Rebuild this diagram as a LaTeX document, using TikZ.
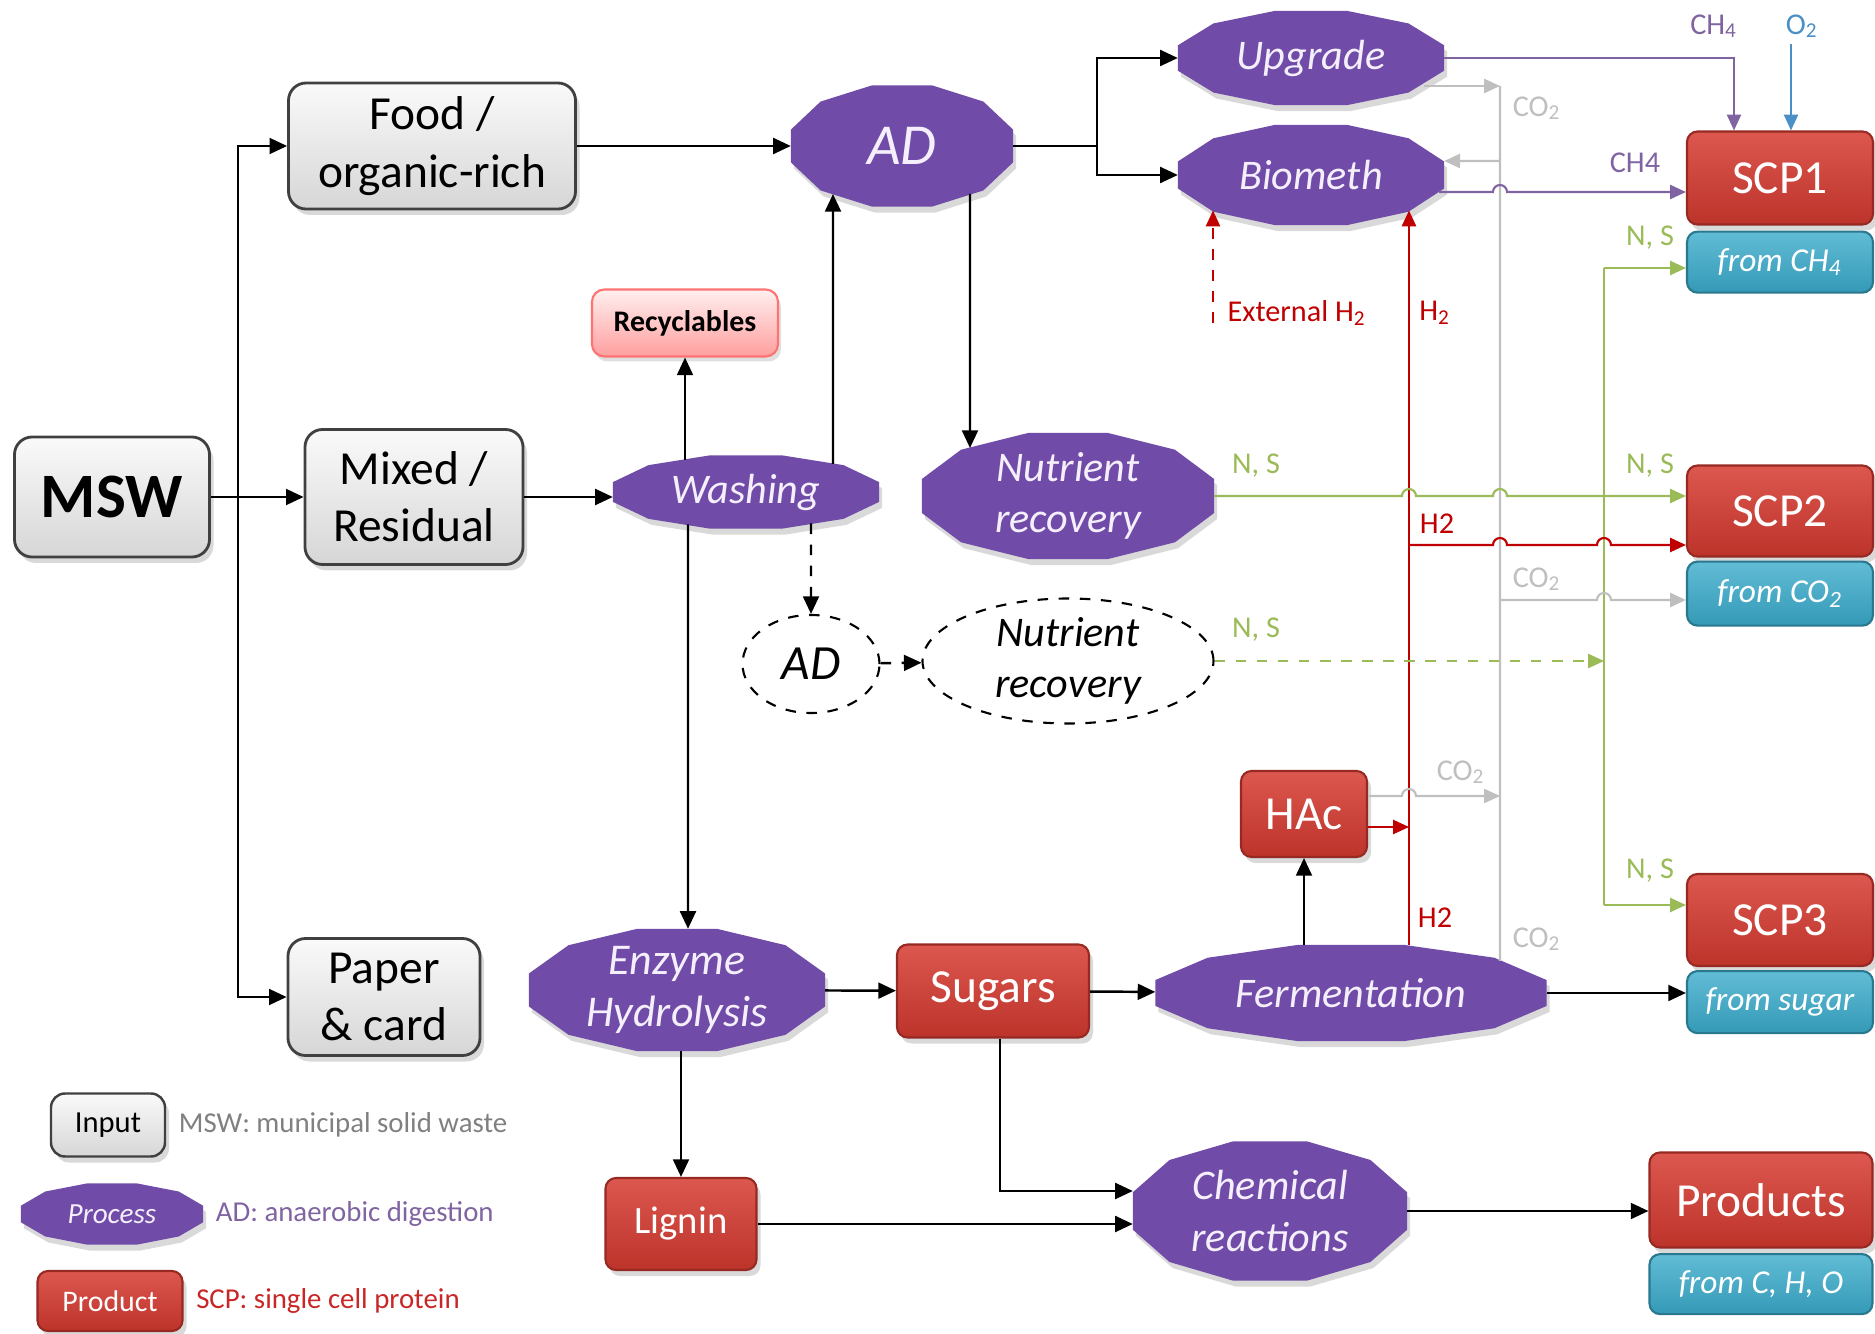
\documentclass[tikz,border=0pt]{standalone}
\usepackage{fontspec}
\setmainfont{Carlito}
\usepackage{xcolor}
\usetikzlibrary{shapes.geometric, arrows.meta, positioning, calc, shadows, backgrounds}
\definecolor{procpurple}{HTML}{704BA8}
\definecolor{proctext}{HTML}{F4EFFB}
\definecolor{scpred}{HTML}{D63A30}
\definecolor{subcyan}{HTML}{3AABCB}
\definecolor{nsgreen}{HTML}{9BBB59}
\definecolor{cotwogray}{HTML}{BFBFBF}
\definecolor{htwored}{HTML}{C00000}
\definecolor{chfourpurple}{HTML}{8064A2}
\definecolor{otwoblue}{HTML}{4A8FC6}

\begin{document}
\begin{tikzpicture}[
        wh/.style 2 args={minimum width=#1cm, minimum height=#2cm},
        inbox/.style={draw=black!75, line width=0.8pt, rounded corners=5pt,
                      top color=gray!4, bottom color=gray!32, inner sep=0pt, align=center,
                      font=\fontsize{13.5}{16.3}\selectfont,
                      drop shadow={shadow xshift=0.4mm, shadow yshift=-0.6mm, opacity=0.3}},
        prodbox/.style={draw=scpred!70!black, line width=0.6pt, rounded corners=3pt,
                        top color=scpred!85!white, bottom color=scpred!88!black, text=white,
                        inner sep=0pt, font=\fontsize{13.5}{16}\selectfont,
                        drop shadow={shadow xshift=0.4mm, shadow yshift=-0.6mm, opacity=0.3}},
        subbox/.style={draw=subcyan!70!black, line width=0.6pt, rounded corners=3pt,
                       top color=subcyan!80!white, bottom color=subcyan!90!black, text=white,
                       inner sep=0pt, font=\fontsize{9.5}{11}\selectfont\itshape},
        recbox/.style={draw=red!55, line width=0.6pt, rounded corners=3.5pt,
                       top color=red!6, bottom color=red!38, inner sep=0pt,
                       font=\fontsize{8.5}{10}\selectfont\bfseries,
                       drop shadow={shadow xshift=0.3mm, shadow yshift=-0.5mm, opacity=0.25}},
        proc/.style={inner sep=0pt, align=center, text=proctext,
                     font=\fontsize{12}{14.6}\selectfont\itshape},
        procfill/.style={fill=procpurple,
                         drop shadow={shadow xshift=0.3mm, shadow yshift=-0.6mm, opacity=0.3}},
        dashproc/.style={ellipse, draw, dashed, line width=0.6pt, inner sep=0pt, align=center,
                         font=\fontsize{12}{14.6}\selectfont\itshape},
        legtext/.style={inner sep=0pt, font=\fontsize{8.2}{10}\selectfont},
        lbl/.style={inner sep=0pt, font=\fontsize{8.6}{10}\selectfont},
        arr/.style={-{Triangle[length=5pt,width=4.5pt]}, line width=0.7pt},
        carr/.style={-{Triangle[length=4.5pt,width=4pt]}, line width=0.6pt},
        hopover/.style={insert path={-- ($(#1)+(-0.07,0)$) arc[start angle=180, end angle=0, radius=0.07]}},
    ]
        \useasboundingbox (0,0) rectangle (18.75,-13.34);

        %--- Inputs ---
        \node[inbox, wh={1.95}{1.20}, font=\fontsize{18}{20}\selectfont\bfseries] (msw) at (1.12,-4.97) {MSW};
        \node[inbox, wh={2.87}{1.26}] (food)  at (4.32,-1.46) {Food /\\organic-rich};
        \node[inbox, wh={2.18}{1.35}] (mixed) at (4.14,-4.97) {Mixed /\\Residual};
        \node[inbox, wh={1.92}{1.17}] (paper) at (3.84,-9.97) {Paper\\\& card};
        \node[recbox, wh={1.86}{0.67}] (recyc) at (6.85,-3.23) {Recyclables};

        %--- Processes ---
        \node[proc, wh={2.21}{1.20}, font=\fontsize{16.5}{18}\selectfont\itshape] (adtop) at (9.02,-1.46) {AD};
        \node[proc, wh={2.65}{0.93}] (upgrade) at (13.11,-0.58)  {Upgrade};
        \node[proc, wh={2.65}{0.99}] (biometh) at (13.11,-1.75)  {Biometh};
        \node[proc, wh={2.65}{0.72}] (wash)    at (7.46,-4.92)   {Washing};
        \node[proc, wh={2.91}{1.25}] (nrec)    at (10.68,-4.96)  {Nutrient\\recovery};
        \node[proc, wh={2.95}{1.21}, font=\fontsize{12.5}{15}\selectfont\itshape] (enz) at (6.77,-9.90) {Enzyme\\Hydrolysis};
        \node[proc, wh={3.90}{0.95}] (ferm)    at (13.51,-9.93)  {Fermentation};
        \node[proc, wh={2.73}{1.38}] (chem)    at (12.70,-12.11) {Chemical\\reactions};

        \node[dashproc, wh={1.37}{0.98}, font=\fontsize{14}{16}\selectfont\itshape] (ad2) at (8.11,-6.64) {AD};
        \node[dashproc, wh={2.91}{1.25}, inner ysep=-1pt] (nrec2) at (10.68,-6.61) {Nutrient\\recovery};

        %--- Products ---
        \node[prodbox, wh={1.26}{0.86}] (hac)    at (13.04,-8.14) {HAc};
        \node[prodbox, wh={1.92}{0.93}] (sugars) at (9.93,-9.91)  {Sugars};
        \node[prodbox, wh={1.51}{0.92}, font=\fontsize{11}{13}\selectfont] (lignin) at (6.81,-12.24) {Lignin};
        \node[prodbox, wh={2.23}{0.95}] (products) at (17.61,-12.00) {Products};
        \node[subbox, wh={2.23}{0.60}, below=0.45mm of products] (prodsub) {from C, H, O};

        \node[prodbox, wh={1.86}{0.93}] (scp1) at (17.80,-1.78) {SCP1};
        \node[subbox, wh={1.86}{0.61}, below=0.5mm of scp1] (sub1) {from CH\textsubscript{4}};
        \node[prodbox, wh={1.86}{0.91}] (scp2) at (17.80,-5.11) {SCP2};
        \node[subbox, wh={1.86}{0.64}, below=0.3mm of scp2] (sub2) {from CO\textsubscript{2}};
        \node[prodbox, wh={1.86}{0.92}] (scp3) at (17.80,-9.20) {SCP3};
        \node[subbox, wh={1.86}{0.62}, below=0.3mm of scp3] (sub3) {from sugar};

        %--- Legend ---
        \node[inbox, wh={1.14}{0.63}, line width=0.7pt, rounded corners=4pt, font=\fontsize{8.7}{10}\selectfont] (leginput) at (1.08,-11.25) {Input};
        \node[proc, wh={1.81}{0.60}, font=\fontsize{8.3}{10}\selectfont\itshape] (legproc) at (1.12,-12.14) {Process};
        \node[prodbox, wh={1.45}{0.60}, font=\fontsize{8.5}{10}\selectfont] (legprod) at (1.10,-13.01) {Product};
        \node[legtext, text=black!50, right=1.2mm of leginput] (legmsw) {MSW: municipal solid waste};
        \node[legtext, text=chfourpurple, right=1.2mm of legproc] (legad) {AD: anaerobic digestion};
        \node[legtext, text=htwored!85!white, right=1.2mm of legprod] (legscp) {SCP: single cell protein};

        % process outlines behind the texts
        \begin{scope}[on background layer]
            \foreach \n in {adtop,upgrade,biometh,wash,nrec,enz,ferm,chem,legproc} {
                \fill[procfill] ($(\n.north)!0.268!(\n.north east)$)
                    -- ($(\n.center)!0.732!(\n.north east)$)
                    -- ($(\n.east)!0.268!(\n.north east)$)
                    -- ($(\n.east)!0.268!(\n.south east)$)
                    -- ($(\n.center)!0.732!(\n.south east)$)
                    -- ($(\n.south)!0.268!(\n.south east)$)
                    -- ($(\n.south)!0.268!(\n.south west)$)
                    -- ($(\n.center)!0.732!(\n.south west)$)
                    -- ($(\n.west)!0.268!(\n.south west)$)
                    -- ($(\n.west)!0.268!(\n.north west)$)
                    -- ($(\n.center)!0.732!(\n.north west)$)
                    -- ($(\n.north)!0.268!(\n.north west)$) -- cycle;
            }
        \end{scope}

        %--- Main flow ---
        \coordinate (mswsplit) at (2.38,-4.97);
        \coordinate (adsplit)  at (10.97,-1.46);
        \draw[arr] (msw) -- (mixed);
        \draw[arr] (mswsplit) |- (food.west);
        \draw[arr] (mswsplit) |- (paper.west);
        \draw[arr] (mixed.east) -- (mixed.east -| wash.west);
        \draw[arr] (food) -- (adtop);
        \draw[arr] ([xshift=8.7mm,yshift=2.8mm]wash.center) -- ([xshift=-6.9mm,yshift=-4.8mm]adtop.center);
        \draw[arr] ([xshift=-6.1mm,yshift=3.2mm]wash.center) -- (recyc.south);
        \draw[arr] ([xshift=-5.8mm,yshift=-3.25mm]wash.center) -- ([xshift=1.1mm]enz.north);
        \draw[arr, dashed] ([xshift=6.5mm,yshift=-3.15mm]wash.center) -- (ad2.north);
        \draw[arr, dashed] (ad2) -- (nrec2);
        \draw[arr] ([xshift=6.8mm,yshift=-4.8mm]adtop.center) -- ([xshift=-9.8mm,yshift=4.8mm]nrec.center);
        \draw[arr] (adtop.east) -- (adsplit) |- (upgrade.west);
        \draw[arr] (adsplit) |- (biometh.west);
        \draw[arr] (enz) -- (sugars);
        \draw[arr] (sugars) -- (ferm);
        \draw[arr] (ferm.east) -- (ferm.east -| sub3.west);
        \draw[arr] (ferm.north -| hac) -- (hac.south);
        \draw[arr] (enz.south -| lignin) -- (lignin.north);
        \draw[arr] ([xshift=0.7mm]sugars.south) |- ([yshift=2mm]chem.west);
        \draw[arr] (lignin.east) -- (lignin.east -| chem.west);
        \draw[arr] (chem.east) -- (chem.east -| products.west);

        %--- Gas and nutrient lines ---
        \coordinate (h2top)   at ($(biometh.center)+(0.98,-0.355)$);
        \coordinate (exttop)  at ($(biometh.center)+(-0.98,-0.355)$);
        \coordinate (exth2)   at (12.13,-3.23);
        \coordinate (co2top)  at (15.00,-0.86);
        \coordinate (co2bot)  at ($(ferm.center)+(1.49,0.32)$);
        \coordinate (nstop)   at (16.04,-2.68);
        \coordinate (nsbot)   at (16.04,-9.05);
        \coordinate (o2in)    at (17.91,-0.44);
        \coordinate (bmout)   at ([xshift=-0.5mm,yshift=-1.7mm]biometh.east);
        \coordinate (upout)   at ([xshift=-2mm,yshift=-2.8mm]upgrade.east);
        \coordinate (hacco2)  at ([yshift=1.8mm]hac.east);
        \coordinate (hach2)   at ([yshift=-1.3mm]hac.east);

        % buses
        \draw[carr, htwored, line width=0.7pt] (ferm.north -| h2top) -- (h2top);
        \draw[cotwogray, line width=0.6pt] (co2bot) -- (co2top);
        \draw[nsgreen, line width=0.6pt] (nsbot) -- (nstop);

        % H2
        \draw[carr, htwored, dashed] (exth2) -- (exttop);
        \draw[carr, htwored] (hach2) -- (hach2 -| h2top);
        \draw[carr, htwored] (h2top |- 0,-5.45) [hopover={co2top |- 0,-5.45}] [hopover={nstop |- 0,-5.45}] -- (scp2.west |- 0,-5.45);

        % CO2
        \draw[carr, cotwogray] (upout) -- (upout -| co2top);
        \draw[carr, cotwogray] ($(co2top |- biometh.east)+(0,0.14)$) -- ([yshift=1.4mm]biometh.east);
        \draw[carr, cotwogray] (hacco2) [hopover={hacco2 -| h2top}] -- (hacco2 -| co2top);
        \draw[carr, cotwogray] (co2top |- 0,-6.00) [hopover={nstop |- 0,-6.00}] -- (sub2.west |- 0,-6.00);

        % N, S
        \draw[carr, nsgreen] (nstop) -- (nstop -| sub1.west);
        \draw[carr, nsgreen] (nsbot) -- (nsbot -| scp3.west);
        \draw[carr, nsgreen] (nrec.east) [hopover={nrec.east -| h2top}] [hopover={nrec.east -| co2top}] -- (nrec.east -| scp2.west);
        \draw[carr, nsgreen, dashed] (nrec2.east) -- (nrec2.east -| nstop);

        % CH4 and O2
        \draw[carr, chfourpurple] (upgrade.east) -| ([xshift=-4.6mm]scp1.north);
        \draw[carr, otwoblue] (o2in) -- (o2in |- scp1.north);
        \draw[carr, chfourpurple] (bmout) [hopover={bmout -| co2top}] -- (bmout -| scp1.west);

        %--- Line labels ---
        \node[lbl, text=chfourpurple] (lch4a) at (17.14,-0.26) {CH\textsubscript{4}};
        \node[lbl, text=otwoblue]     (lo2)   at (18.02,-0.26) {O\textsubscript{2}};
        \node[lbl, text=cotwogray]    (lco2a) at (15.37,-1.08) {CO\textsubscript{2}};
        \node[lbl, text=chfourpurple] (lch4b) at (16.35,-1.63) {CH4};
        \node[lbl, text=nsgreen]      (lnsa)  at (16.50,-2.38) {N, S};
        \node[lbl, text=htwored]      (lext)  at (12.97,-3.13) {External H\textsubscript{2}};
        \node[lbl, text=htwored]      (lh2a)  at (14.35,-3.13) {H\textsubscript{2}};
        \node[lbl, text=nsgreen]      (lnsb)  at (12.56,-4.66) {N, S};
        \node[lbl, text=nsgreen]      (lnsc)  at (16.50,-4.66) {N, S};
        \node[lbl, text=htwored]      (lh2b)  at (14.37,-5.24) {H2};
        \node[lbl, text=cotwogray]    (lco2b) at (15.37,-5.79) {CO\textsubscript{2}};
        \node[lbl, text=nsgreen]      (lnsd)  at (12.56,-6.30) {N, S};
        \node[lbl, text=cotwogray]    (lco2c) at (14.61,-7.72) {CO\textsubscript{2}};
        \node[lbl, text=nsgreen]      (lnse)  at (16.50,-8.71) {N, S};
        \node[lbl, text=htwored]      (lh2c)  at (14.35,-9.18) {H2};
        \node[lbl, text=cotwogray]    (lco2d) at (15.37,-9.39) {CO\textsubscript{2}};
    \end{tikzpicture}
\end{document}
